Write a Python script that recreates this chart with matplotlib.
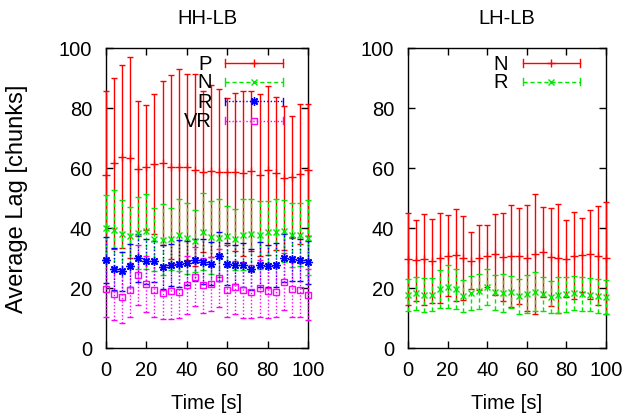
import numpy as np
import matplotlib
matplotlib.use("Agg")
import matplotlib.pyplot as plt
from matplotlib.lines import Line2D

plt.rcParams['font.family'] = ['Liberation Sans', 'DejaVu Sans']

time_s = list(range(0, 101, 4))

# HH-LB panel
p_mean = [57.7, 61.6, 63.8, 63.4, 59.8, 60.2, 61.3, 61.7, 60.3, 60.3, 60.3, 59.3, 58.8,
          59.1, 58.6, 58.8, 58.6, 58.2, 59.0, 57.7, 59.2, 58.3, 56.7, 57.0, 58.1, 59.3]
p_std = [27.9, 28.5, 30.4, 33.5, 22.4, 20.9, 23.3, 27.2, 30.6, 32.7, 30.9, 31.9, 26.9,
         28.7, 27.6, 24.4, 26.4, 27.5, 26.7, 27.0, 28.2, 25.5, 23.9, 20.2, 23.3, 21.9]
n_mean = [40.1, 39.4, 37.9, 37.4, 38.3, 38.9, 36.3, 36.1, 36.3, 37.7, 36.6, 35.7, 38.8,
          36.9, 36.7, 37.2, 36.2, 37.8, 37.9, 37.7, 38.6, 38.7, 39.0, 37.7, 37.8, 36.8]
n_std = [11.0, 13.2, 11.5, 9.5, 11.9, 12.5, 10.5, 11.9, 10.3, 11.9, 11.8, 10.2, 12.8,
         12.2, 13.0, 10.3, 10.3, 11.9, 11.8, 11.2, 10.3, 11.0, 10.4, 10.8, 10.5, 12.5]
r_mean = [29.3, 26.3, 25.6, 27.4, 30.0, 28.9, 28.9, 26.9, 27.8, 28.1, 28.3, 29.3, 28.8,
          28.1, 30.6, 28.0, 27.8, 27.7, 26.3, 27.8, 27.4, 27.6, 30.1, 29.6, 29.3, 28.6]
r_std = [7.6, 7.0, 6.5, 7.2, 8.0, 7.5, 6.8, 7.3, 7.0, 7.8, 7.4, 6.9, 7.5,
         7.1, 8.2, 7.0, 6.6, 7.2, 6.8, 7.5, 7.0, 7.3, 8.0, 7.4, 7.1, 7.2]
vr_mean = [19.7, 18.0, 17.0, 19.3, 24.2, 21.3, 19.4, 18.3, 18.9, 18.7, 21.0, 23.8, 20.9,
           21.3, 23.3, 19.3, 20.2, 19.3, 18.8, 19.9, 19.0, 18.8, 22.1, 19.6, 19.3, 17.8]
vr_std = [9.5, 8.8, 8.5, 9.0, 10.0, 9.4, 8.9, 8.6, 9.1, 8.8, 9.6, 9.9, 9.2,
          8.9, 9.7, 9.0, 8.7, 9.3, 8.8, 9.4, 9.0, 8.6, 9.5, 9.1, 8.9, 8.4]

# LH-LB panel
n2_mean = [29.7, 29.3, 29.6, 29.1, 30.0, 30.8, 31.0, 30.0, 29.1, 30.1, 30.7, 31.2, 30.4,
           30.7, 30.7, 30.0, 31.2, 32.0, 30.3, 29.9, 29.8, 30.7, 31.0, 31.2, 30.8, 29.9]
n2_std = [15.2, 13.5, 15.2, 14.0, 14.9, 13.4, 15.2, 13.9, 9.5, 10.8, 10.2, 13.6, 14.7,
          17.1, 15.9, 17.6, 20.0, 15.0, 16.3, 18.2, 12.8, 14.5, 12.4, 14.9, 16.6, 18.7]
r2_mean = [17.8, 18.2, 17.7, 17.7, 19.8, 20.4, 19.7, 17.4, 18.3, 18.9, 20.3, 18.6, 18.4,
           18.6, 17.3, 18.0, 18.8, 17.9, 17.1, 17.7, 17.9, 18.4, 18.0, 17.7, 17.4, 17.0]
r2_std = [5.3, 5.6, 5.8, 5.5, 6.3, 7.2, 6.6, 5.3, 5.6, 5.8, 6.0, 5.9, 6.4,
          5.4, 5.8, 6.2, 6.5, 5.7, 5.4, 6.0, 5.9, 5.6, 5.8, 5.5, 5.6, 5.7]

titles = ["HH-LB", "LH-LB"]
y_ticks = [0, 20, 40, 60, 80, 100]
x_ticks = [0, 20, 40, 60, 80, 100]

RED, GREEN, BLUE, MAG = '#ff0000', '#00e800', '#0000ff', '#ff00ff'
FS = 14.5

fig = plt.figure(figsize=(6.29, 4.14), dpi=100)
W, H = 629, 414
ax1 = fig.add_axes([106 / W, (H - 349) / H, 202 / W, 300 / H])
ax2 = fig.add_axes([408 / W, (H - 349) / H, 198 / W, 300 / H])


def draw_series(ax, mean, std, color, marker, ls, ms, mfc):
    eb = ax.errorbar(time_s, mean, yerr=std, fmt='none', ecolor=color,
                     elinewidth=1.0, capsize=2.5, capthick=1.0, zorder=2,
                     clip_on=False)
    for coll in eb[2]:
        coll.set_linestyle(ls)
    for cap in eb[1]:
        cap.set_clip_on(False)
    ax.plot(time_s, mean, linestyle='none', marker=marker, color=color,
            markersize=ms, markerfacecolor=mfc, markeredgewidth=1.0, zorder=3,
            clip_on=False)


def legend_entry(ax, row_y, label, color, marker, ls, ms, mfc, lx, x0, x1):
    ax.text(lx, row_y, label, transform=ax.transAxes, ha='right', va='center',
            fontsize=FS, zorder=5)
    ax.add_line(Line2D([x0, x1], [row_y, row_y], transform=ax.transAxes,
                       color=color, lw=1.0, linestyle=ls, zorder=5))
    for xe in (x0, x1):
        ax.add_line(Line2D([xe, xe], [row_y - 0.012, row_y + 0.012],
                           transform=ax.transAxes, color=color, lw=1.0, zorder=5))
    ax.add_line(Line2D([(x0 + x1) / 2], [row_y], transform=ax.transAxes,
                       color=color, marker=marker, markersize=ms,
                       markerfacecolor=mfc, linestyle='none', zorder=5))


series1 = [
    ("P", p_mean, p_std, RED, '+', '-', 6, 'none'),
    ("N", n_mean, n_std, GREEN, 'x', (0, (3, 2)), 5, 'none'),
    ("R", r_mean, r_std, BLUE, (8, 2, 0), (0, (1, 1.5)), 6, BLUE),
    ("VR", vr_mean, vr_std, MAG, 's', (0, (1, 1.5)), 5, 'none'),
]
series2 = [
    ("N", n2_mean, n2_std, RED, '+', '-', 6, 'none'),
    ("R", r2_mean, r2_std, GREEN, 'x', (0, (3, 2)), 5, 'none'),
]

for s in series1:
    draw_series(ax1, s[1], s[2], s[3], s[4], s[5], s[6], s[7])
for s in series2:
    draw_series(ax2, s[1], s[2], s[3], s[4], s[5], s[6], s[7])

rows1 = [0.95, 0.887, 0.823, 0.758]
for s, ry in zip(series1, rows1):
    legend_entry(ax1, ry, s[0], s[3], s[4], s[5], s[6], s[7], 0.525, 0.589, 0.876)
rows2 = [0.95, 0.888]
for s, ry in zip(series2, rows2):
    legend_entry(ax2, ry, s[0], s[3], s[4], s[5], s[6], s[7], 0.505, 0.579, 0.87)

for ax, t in zip([ax1, ax2], titles):
    ax.set_xlim(0, 100)
    ax.set_ylim(0, 100)
    ax.set_xticks(x_ticks)
    ax.set_yticks(y_ticks)
    ax.tick_params(direction='in', top=True, right=True, length=5, width=1,
                   labelsize=FS)
    ax.tick_params(axis='y', pad=10)
    ax.tick_params(axis='x', pad=9)
    for sp in ax.spines.values():
        sp.set_linewidth(1.0)
        sp.set_zorder(1)
    ax.set_xlabel("Time [s]", fontsize=FS, labelpad=10)
    ax.set_title(t, fontsize=FS, pad=18)

ax1.set_ylabel("Average Lag [chunks]", fontsize=17, labelpad=22)

fig.savefig("out.png", dpi=100)
